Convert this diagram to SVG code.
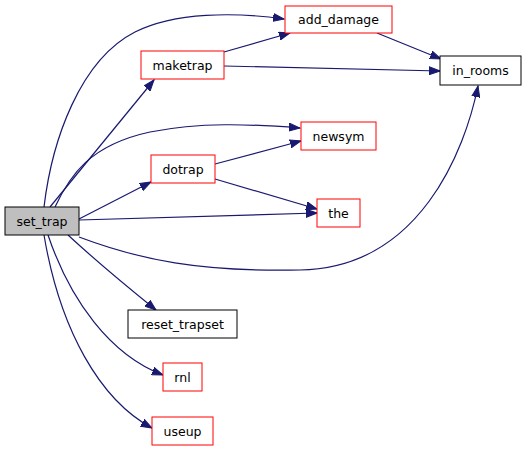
<svg xmlns="http://www.w3.org/2000/svg" width="528" height="451" viewBox="0 0 528 451">
<style>
.n rect{fill:#fff;stroke:#ff0000;stroke-width:1}
.n.b rect{stroke:#000}
.n.g rect{fill:#bfbfbf;stroke:#000}
.n text{font-family:"DejaVu Sans",sans-serif;font-size:12.5px;fill:#000;text-anchor:middle}
#edges path{fill:none;stroke:#191970;stroke-width:1.2;marker-end:url(#ah)}
</style>
<defs>
<marker id="ah" markerWidth="12" markerHeight="9" refX="11" refY="4.5" orient="auto" markerUnits="userSpaceOnUse">
<path d="M0,0.5 L11,4.5 L0,8.5 Z" fill="#191970" stroke="#191970"/>
</marker>
</defs>
<rect width="528" height="451" fill="#fff"/>
<g id="edges">
<path d="M44,207 C52,140 80,60 135,32 C175,12 235,12 284,19"/>
<path d="M50,207 L154,80"/>
<path d="M55,207 C70,175 90,145 150,132 C200,122 250,124 300,128"/>
<path d="M79,219 L151,182"/>
<path d="M79,220 L317,213"/>
<path d="M79,237 C140,260 200,272 300,270 C420,268 465,150 478,86"/>
<path d="M68,235 C95,260 125,285 156,310"/>
<path d="M48,235 C70,300 110,355 163,375"/>
<path d="M44,235 C60,330 100,400 152,428"/>
<path d="M224,52 L290,33"/>
<path d="M224,66 L440,71"/>
<path d="M377,33 L441,59"/>
<path d="M215,164 L301,141"/>
<path d="M215,179 L317,209"/>
</g>
<g id="set_trap" class="n g"><rect x="5" y="207" width="74" height="28"/><text x="42" y="225.5">set_trap</text></g>
<g id="add_damage" class="n"><rect x="285" y="6" width="107" height="27"/><text x="338.5" y="24">add_damage</text></g>
<g id="maketrap" class="n"><rect x="141" y="51" width="83" height="28"/><text x="182.5" y="69.5">maketrap</text></g>
<g id="in_rooms" class="n b"><rect x="440" y="56" width="81" height="29"/><text x="480.5" y="75">in_rooms</text></g>
<g id="newsym" class="n"><rect x="301" y="122" width="75" height="28"/><text x="338.5" y="140.5">newsym</text></g>
<g id="dotrap" class="n"><rect x="151" y="155" width="64" height="28"/><text x="183" y="173.5">dotrap</text></g>
<g id="the" class="n"><rect x="317" y="199" width="43" height="28"/><text x="338.5" y="217.5">the</text></g>
<g id="reset_trapset" class="n b"><rect x="128" y="310" width="109" height="28"/><text x="182.5" y="328.5">reset_trapset</text></g>
<g id="rnl" class="n"><rect x="163" y="363" width="39" height="28"/><text x="182.5" y="381.5">rnl</text></g>
<g id="useup" class="n"><rect x="152" y="417" width="61" height="28"/><text x="182.5" y="435.5">useup</text></g>
</svg>
